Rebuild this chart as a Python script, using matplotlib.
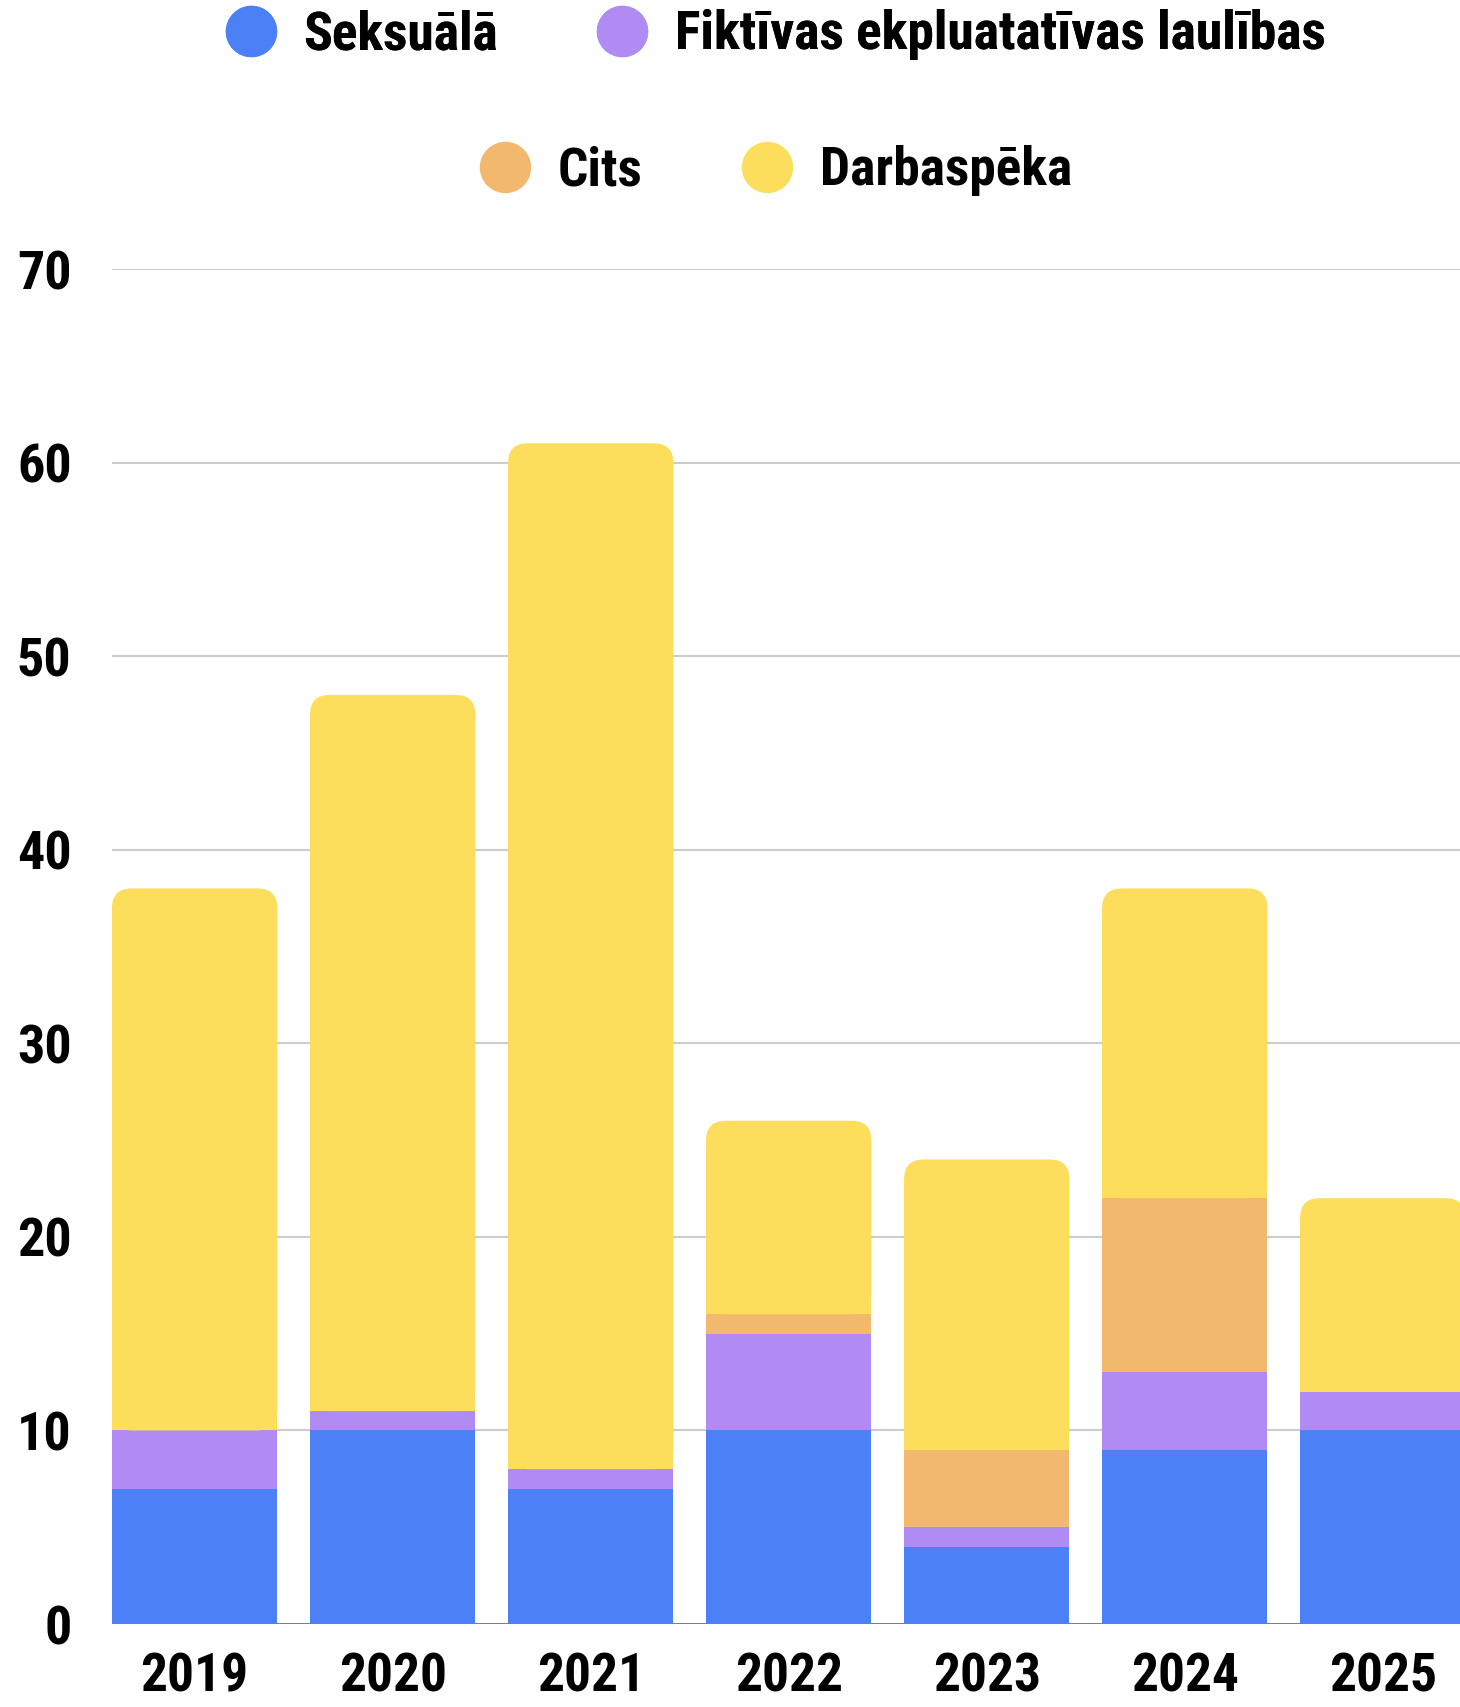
import matplotlib.pyplot as plt
from matplotlib import font_manager
from matplotlib.patches import FancyBboxPatch
from matplotlib.lines import Line2D

years = ["2019", "2020", "2021", "2022", "2023", "2024", "2025"]
seksuala = [7, 10, 7, 10, 4, 9, 10]
fiktivas = [3, 1, 1, 5, 1, 4, 2]
cits = [0, 0, 0, 1, 4, 9, 0]
darbaspeka = [28, 37, 53, 10, 15, 16, 10]

series_names = ["Seksuālā", "Fiktīvas ekpluatatīvas laulības", "Cits", "Darbaspēka"]
colors = ["#4B80F6", "#AF8BF3", "#F2B86D", "#FDDD5C"]
y_ticks = [0, 10, 20, 30, 40, 50, 60, 70]

# pick the narrowest bold face that is installed
installed = {f.name for f in font_manager.fontManager.ttflist}
candidates = ["Liberation Sans Narrow", "Roboto Condensed", "DejaVu Sans Condensed",
              "Open Sans Condensed", "Noto Sans Condensed", "Roboto",
              "Liberation Sans", "DejaVu Sans"]
main_font = next(f for f in candidates if f in installed or f == "DejaVu Sans")
plt.rcParams["font.family"] = [main_font, "DejaVu Sans"]
plt.rcParams["font.weight"] = "bold"

fig = plt.figure(figsize=(14.6, 17.07), dpi=100)
renderer = fig.canvas.get_renderer()


def fit_size(text, target_w, max_size):
    # font size (pt) that gives the text a target pixel width, capped by height
    t = fig.text(0, 0, text, fontsize=40, fontweight="bold")
    w = t.get_window_extent(renderer).width
    t.remove()
    return min(max_size, 40 * target_w / w)


legend_size = fit_size(series_names[1], 651, 44)
year_size = fit_size("2019", 108, 47)
ytick_size = fit_size("70", 58, 39)

ax = fig.add_axes([0.0767, 0.0486, 0.9233, 0.7938])

width = 0.835
x = list(range(len(years)))
all_series = [seksuala, fiktivas, cits, darbaspeka]
bottoms = [0] * len(years)
for s_idx, (vals, col) in enumerate(zip(all_series, colors)):
    for i in range(len(years)):
        v = vals[i]
        if v == 0:
            continue
        if s_idx == len(all_series) - 1:
            # top segment with rounded upper corners
            ax.bar(x[i], v - 1.5, width, bottom=bottoms[i], color=col, zorder=3)
            patch = FancyBboxPatch((x[i] - width / 2, bottoms[i]), width, v,
                                   boxstyle="round,pad=0,rounding_size=0.1",
                                   mutation_aspect=10.2, facecolor=col,
                                   edgecolor="none", zorder=3)
            ax.add_patch(patch)
        else:
            ax.bar(x[i], v, width, bottom=bottoms[i], color=col, zorder=3)
        bottoms[i] += v

ax.set_xlim(-width / 2, 6.39)
ax.set_ylim(0, 70)
ax.set_yticks(y_ticks)
ax.set_xticks(x)
ax.set_xticklabels(years)
ax.tick_params(axis="x", length=0, pad=20, labelsize=year_size)
ax.tick_params(axis="y", length=0, pad=29, labelsize=ytick_size)
for lab in ax.get_xticklabels() + ax.get_yticklabels():
    lab.set_fontweight("bold")
ax.grid(axis="y", color="#cccccc", linewidth=1.5, zorder=0)
for sp in ax.spines.values():
    sp.set_visible(False)
ax.axhline(0, color="#777777", linewidth=2, zorder=2)

# legend spacing given in pixels, converted to font-size units
fs_px = legend_size / 0.72
handles = [Line2D([], [], linestyle="none", marker="o", markersize=37,
                  markerfacecolor=c, markeredgecolor="none") for c in colors]
center_x = 0.531
leg_opts = dict(loc="center", ncol=2, frameon=False,
                handlelength=52 / fs_px, handletextpad=27 / fs_px,
                columnspacing=98 / fs_px,
                prop={"family": [main_font, "DejaVu Sans"], "weight": "bold",
                      "size": legend_size})
leg1 = fig.legend(handles[:2], series_names[:2],
                  bbox_to_anchor=(center_x, 1 - 35 / 1707), **leg_opts)
fig.add_artist(leg1)
leg2 = fig.legend(handles[2:], series_names[2:],
                  bbox_to_anchor=(center_x, 1 - 171 / 1707), **leg_opts)

fig.savefig("out.png", dpi=100)
